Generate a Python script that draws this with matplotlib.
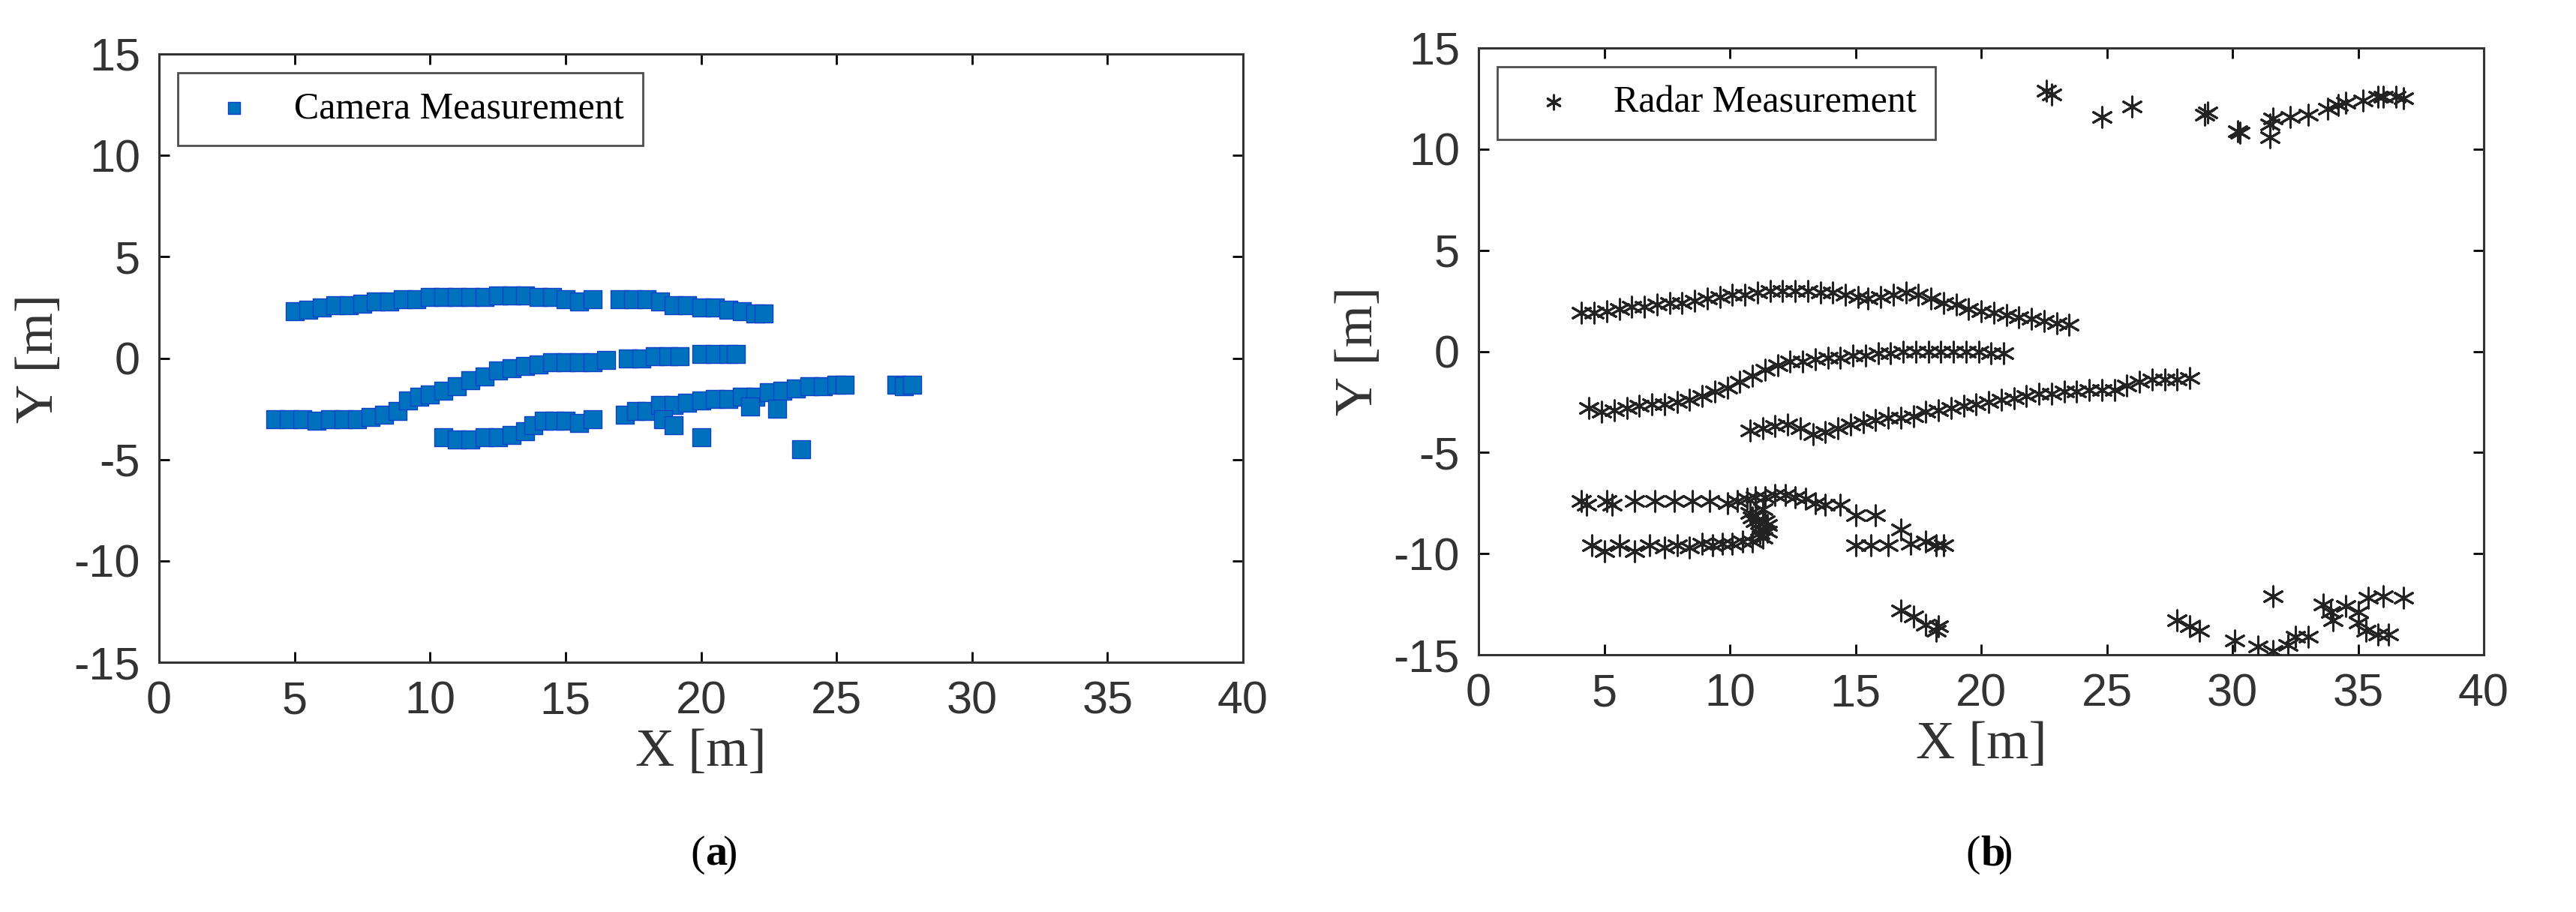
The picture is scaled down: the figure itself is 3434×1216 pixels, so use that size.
import matplotlib
matplotlib.use("Agg")
import matplotlib.pyplot as plt

# Camera tracks
cam_x = [5.0,5.5,6.0,6.5,7.0,7.5,8.0,8.5,9.0,9.5,10.0,10.5,11.0,11.5,12.0,12.5,13.0,13.5,14.0,14.5,15.0,15.5,16.0,17.0,17.5,18.0,18.5,19.0,19.5,20.0,20.5,21.0,21.5,22.0,22.3,
         4.3,4.8,5.3,5.8,6.3,6.8,7.3,7.8,8.3,8.8,9.2,9.6,10.0,10.5,11.0,11.5,12.0,12.5,13.0,13.5,14.0,14.5,15.0,15.5,16.0,16.5,17.3,17.8,18.3,18.8,19.2,20.0,20.5,21.0,21.3,
         10.5,11.0,11.5,12.0,12.5,13.0,13.5,13.8,14.2,14.6,15.0,15.5,16.0,17.2,17.6,18.0,18.5,19.0,19.5,20.0,20.5,21.0,21.5,22.0,22.5,23.0,23.5,24.0,24.5,25.0,25.3,27.2,27.5,27.8,
         18.6,19.0,20.0,23.7,21.8,22.8]
cam_y = [2.3,2.4,2.5,2.6,2.6,2.7,2.8,2.8,2.9,2.9,3.0,3.0,3.0,3.0,3.0,3.1,3.1,3.1,3.0,3.0,2.9,2.8,2.9,2.9,2.9,2.9,2.8,2.6,2.6,2.5,2.5,2.4,2.3,2.2,2.2,
         -3.0,-3.0,-3.0,-3.1,-3.0,-3.0,-3.0,-2.9,-2.8,-2.6,-2.1,-1.9,-1.8,-1.6,-1.4,-1.1,-0.9,-0.6,-0.5,-0.4,-0.3,-0.2,-0.2,-0.2,-0.2,-0.1,0.0,0.0,0.1,0.1,0.1,0.2,0.2,0.2,0.2,
         -3.9,-4.0,-4.0,-3.9,-3.9,-3.8,-3.6,-3.3,-3.1,-3.1,-3.1,-3.2,-3.0,-2.8,-2.6,-2.6,-2.3,-2.3,-2.2,-2.1,-2.0,-2.0,-1.9,-1.9,-1.7,-1.6,-1.5,-1.4,-1.4,-1.3,-1.3,-1.3,-1.4,-1.3,
         -3.0,-3.3,-3.9,-4.5,-2.4,-2.5]

# Radar tracks
rad_x = [4.1,4.6,5.1,5.6,6.1,6.6,7.1,7.6,8.1,8.6,9.1,9.6,10.1,10.6,11.1,11.6,12.1,12.6,13.1,13.6,14.1,14.6,15.1,15.5,16.0,16.5,17.0,17.5,18.0,18.5,19.0,19.5,20.0,20.5,21.0,21.5,22.0,22.5,23.0,23.5,
         4.4,4.9,5.4,5.9,6.4,6.9,7.4,7.9,8.4,8.9,9.4,9.9,10.4,10.9,11.4,11.9,12.4,12.9,13.4,13.9,14.4,14.9,15.4,15.9,16.4,16.9,17.4,17.9,18.4,18.9,19.4,19.9,20.4,20.9,
         10.8,11.3,11.8,12.3,12.8,13.3,13.8,14.3,14.8,15.3,15.8,16.3,16.8,17.3,17.8,18.3,18.8,19.3,19.8,20.3,20.8,21.3,21.8,22.3,22.8,23.3,23.8,24.3,24.8,25.3,25.8,26.3,26.8,27.3,27.8,28.3,
         4.1,4.3,5.1,5.3,6.2,7.0,7.8,8.5,9.2,9.9,10.3,10.7,11.0,11.4,11.8,12.2,12.6,13.0,13.4,13.8,14.4,
         4.5,5.0,5.6,6.2,6.8,7.4,7.9,8.4,8.9,9.3,9.7,10.1,10.5,10.9,11.3,11.5,
         10.8,11.0,11.2,11.3,11.4,11.5,11.2,10.9,
         15.0,15.8,15.0,15.6,16.3,16.8,17.2,17.8,18.2,18.5,
         16.8,17.3,17.8,18.2,18.3,
         22.6,22.8,24.8,26.0,28.9,29.0,30.2,30.3,31.5,31.5,31.6,32.3,33.0,33.8,34.2,34.5,35.2,35.8,36.0,36.5,36.8,
         27.8,28.3,28.7,30.1,31.0,31.6,31.6,32.2,32.5,33.0,33.6,33.9,34.0,34.5,35.0,35.0,35.3,35.8,36.2,35.4,36.0,36.8]
rad_y = [1.9,1.9,2.0,2.1,2.2,2.2,2.3,2.4,2.4,2.5,2.6,2.7,2.8,2.8,2.9,3.0,3.0,3.0,3.0,2.9,2.9,2.8,2.7,2.6,2.7,2.8,2.9,2.8,2.6,2.4,2.3,2.1,2.0,1.9,1.8,1.7,1.6,1.5,1.4,1.3,
         -2.8,-3.0,-2.9,-2.8,-2.7,-2.6,-2.6,-2.5,-2.4,-2.2,-2.0,-1.8,-1.5,-1.2,-0.9,-0.7,-0.5,-0.5,-0.4,-0.3,-0.3,-0.2,-0.2,-0.1,-0.1,0.0,0.0,0.0,0.0,0.0,0.0,0.0,-0.1,-0.1,
         -3.9,-3.8,-3.7,-3.6,-3.8,-4.1,-4.0,-3.8,-3.6,-3.5,-3.4,-3.3,-3.3,-3.2,-3.0,-2.9,-2.8,-2.7,-2.6,-2.5,-2.4,-2.3,-2.2,-2.1,-2.1,-2.0,-2.0,-1.9,-1.9,-1.9,-1.7,-1.5,-1.4,-1.4,-1.4,-1.3,
         -7.4,-7.6,-7.4,-7.6,-7.4,-7.4,-7.4,-7.4,-7.4,-7.5,-7.4,-7.3,-7.2,-7.2,-7.1,-7.1,-7.2,-7.3,-7.5,-7.6,-7.6,
         -9.6,-9.9,-9.6,-9.9,-9.6,-9.7,-9.6,-9.7,-9.5,-9.6,-9.5,-9.5,-9.4,-9.4,-9.2,-8.9,
         -8.0,-8.4,-8.8,-7.8,-8.4,-8.6,-9.0,-8.2,
         -8.1,-8.1,-9.6,-9.6,-9.6,-8.8,-9.5,-9.4,-9.6,-9.6,
         -12.8,-13.1,-13.5,-13.8,-13.6,
         12.9,12.7,11.6,12.1,11.7,11.8,10.9,10.8,11.2,10.6,11.5,11.6,11.7,12.0,12.2,12.3,12.4,12.6,12.6,12.6,12.5,
         -13.3,-13.6,-13.8,-14.3,-14.6,-14.8,-12.1,-14.5,-14.1,-14.1,-12.5,-12.9,-13.3,-12.6,-12.9,-13.4,-13.8,-14.0,-14.0,-12.2,-12.1,-12.2]

xticks = [0,5,10,15,20,25,30,35,40]
yticks = [-15,-10,-5,0,5,10,15]

W, H = 3434, 1216
fig = plt.figure(figsize=(W/100, H/100), dpi=100)
axes = [fig.add_axes([212/W, 1-883/H, (1657-212)/W, (883-72)/H]),
        fig.add_axes([1971/W, 1-873/H, (3311-1971)/W, (873-64)/H])]

tickfont = dict(family='Liberation Sans', size=44)
labfont = dict(family='Liberation Serif', size=52)

a = axes[0]
a.scatter(cam_x, cam_y, marker='s', s=280, c='#0072BD', edgecolors='#1040C8', linewidths=1.0,
          label='Camera Measurement', zorder=3)
b = axes[1]
b.scatter(rad_x, rad_y, marker=(6, 2, 0), s=380, c='#222222', linewidths=2.2,
          label='Radar Measurement', zorder=3)

for ax, cap, cx in zip(axes, ['a', 'b'], [940, 2640]):
    ax.set_xlim(0, 40)
    ax.set_ylim(-15, 15)
    ax.set_xticks(xticks)
    ax.set_yticks(yticks)
    ax.set_xticklabels([str(t) for t in xticks], fontdict=tickfont, color='#333333')
    ax.set_yticklabels([str(t) for t in yticks], fontdict=tickfont, color='#333333')
    ax.tick_params(direction='in', length=10, width=2, top=True, right=True, pad=18)
    for s in ax.spines.values():
        s.set_linewidth(2.2)
        s.set_color('#333333')
    ax.set_xlabel('X [m]', fontdict=labfont, color='#333333', labelpad=4)
    ax.set_ylabel('Y [m]', fontdict=labfont, color='#333333', labelpad=10)
    leg = ax.legend(loc='upper left', prop=dict(family='Liberation Serif', size=36), frameon=True,
                    fancybox=False, edgecolor='#222222', borderpad=0.5, handletextpad=0.6,
                    markerscale=0.7, borderaxespad=0.5)
    leg.get_frame().set_linewidth(2)
    fig.text(cx/W, 1-1140/H, '(', ha='right', va='center', fontsize=42, family='Liberation Serif')
    fig.text(cx/W, 1-1140/H, cap, ha='left', va='center', fontsize=42, family='Liberation Serif', fontweight='bold')
    fig.text((cx+23)/W, 1-1140/H, ')', ha='left', va='center', fontsize=42, family='Liberation Serif')

fig.savefig('out.png', dpi=100)
